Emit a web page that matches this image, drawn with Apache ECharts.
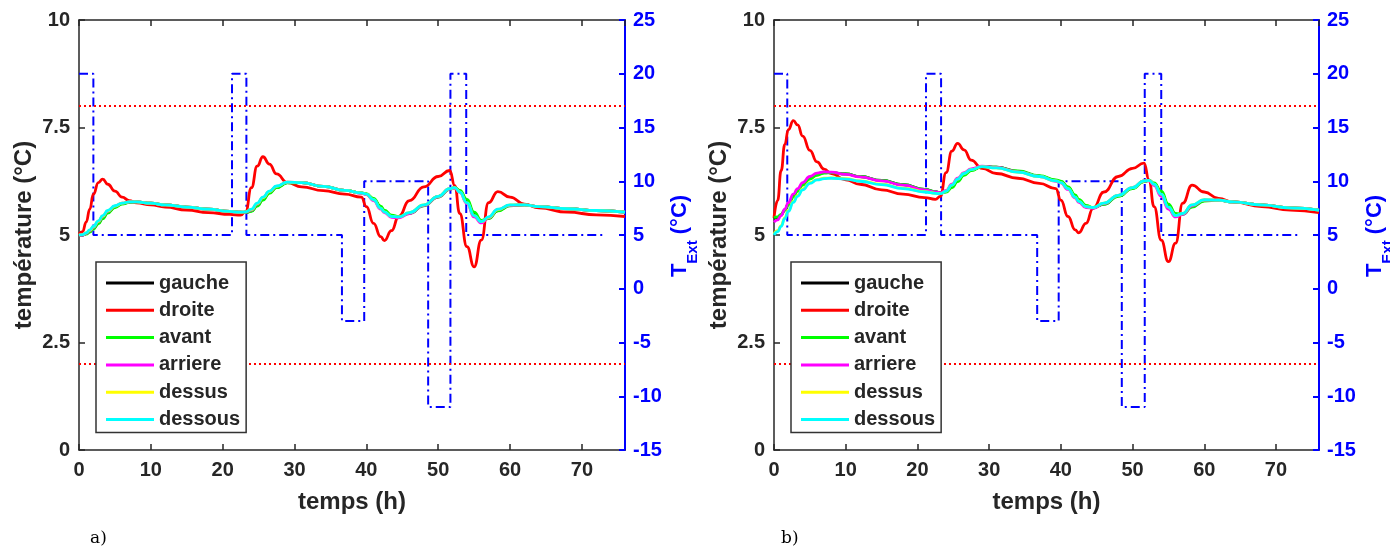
<!DOCTYPE html>
<html>
<head>
<meta charset="utf-8">
<script src="https://cdn.jsdelivr.net/npm/echarts@6/dist/echarts.min.js"></script>
<style>html,body{margin:0;padding:0;background:#fff}#c{width:1390px;height:549px}</style>
</head>
<body>
<div id="c"></div>
<script>
// ---------- DATA ----------
const seriesNames = ['gauche', 'droite', 'avant', 'arriere', 'dessus', 'dessous'];
const timeGrid = [0,0.5,1,1.5,2,2.7,3.3,4,5,6,7,8,10,12,15,18,21,22.5,23.2,24,24.8,25.6,26.5,27.5,29,31,34,37,39.3,40,41,42,42.5,43.5,44.5,46,48,50,51.6,52.3,53,54,55,56,57,58.3,60,62,64,68,72,76];

// panel a)
const gaucheA  = [5.0,5.0,5.03,5.08,5.16,5.28,5.40,5.53,5.65,5.73, 5.76,5.77,5.74,5.70,5.65,5.60,5.55,5.53,5.52,5.56, 5.69,5.83,5.99,6.11,6.22,6.22,6.13,6.04,5.98,5.95, 5.83,5.64,5.56,5.44,5.42,5.51,5.69,5.89,6.07,6.10, 6.02,5.79,5.49,5.32,5.39,5.57,5.69,5.70,5.66,5.61, 5.57,5.53];
const droiteA  = [5.02,5.08,5.3,5.6,5.95,6.22,6.30,6.18,6.02,5.88, 5.80,5.75,5.70,5.65,5.58,5.52,5.48,5.46,5.55,6.10, 6.60,6.82,6.65,6.42,6.22,6.12,6.03,5.95,5.88,5.66, 5.27,4.96,4.87,5.10,5.43,5.80,6.12,6.36,6.50,6.15, 5.50,4.73,4.26,4.88,5.75,6.01,5.88,5.72,5.63,5.53, 5.47,5.43];
const avantA   = [5.0,5.0,5.02,5.07,5.14,5.26,5.38,5.51,5.64,5.72, 5.76,5.77,5.74,5.70,5.65,5.60,5.55,5.53,5.52,5.55, 5.67,5.81,5.97,6.10,6.21,6.22,6.13,6.04,5.98,5.96, 5.85,5.67,5.58,5.46,5.43,5.50,5.68,5.88,6.06,6.10, 6.04,5.83,5.53,5.34,5.38,5.56,5.68,5.70,5.66,5.61, 5.57,5.53];
const arriereA = [5.0,5.0,5.04,5.10,5.18,5.31,5.43,5.55,5.67,5.74, 5.77,5.77,5.74,5.70,5.65,5.60,5.55,5.53,5.53,5.58, 5.72,5.87,6.01,6.13,6.23,6.22,6.13,6.04,5.97,5.94, 5.80,5.60,5.52,5.41,5.40,5.50,5.69,5.89,6.07,6.09, 5.99,5.73,5.42,5.28,5.40,5.59,5.69,5.70,5.66,5.61, 5.57,5.53];
const dessusA  = [5.0,5.01,5.05,5.11,5.19,5.32,5.44,5.56,5.67,5.74, 5.77,5.77,5.74,5.70,5.65,5.60,5.55,5.53,5.54,5.59, 5.73,5.87,6.01,6.13,6.23,6.22,6.13,6.04,5.98,5.95, 5.82,5.62,5.54,5.43,5.42,5.52,5.70,5.90,6.08,6.10, 6.00,5.75,5.45,5.31,5.41,5.59,5.70,5.70,5.66,5.61, 5.57,5.53];
const dessousA = [5.0,5.01,5.05,5.12,5.2,5.33,5.45,5.57,5.68,5.74, 5.77,5.77,5.74,5.70,5.65,5.60,5.55,5.53,5.54,5.60, 5.74,5.88,6.02,6.14,6.23,6.22,6.13,6.04,5.98,5.95, 5.82,5.62,5.54,5.43,5.42,5.52,5.70,5.90,6.08,6.10, 6.00,5.75,5.45,5.31,5.42,5.60,5.70,5.70,5.66,5.61, 5.57,5.53];
const tExtTimesA  = [0, 2, 21.3, 23.3, 36.6, 39.7, 48.6, 51.7, 53.9, 73];
const tExtValuesA = [20, 5, 20, 5, -3, 10, -11, 20, 5, 5];

// panel b)
const gaucheB  = [5.38,5.41,5.47,5.58,5.71,5.90,6.04,6.18,6.32,6.41, 6.45,6.45,6.42,6.36,6.27,6.17,6.06,6.01,5.98,6.01, 6.12,6.26,6.41,6.51,6.59,6.58,6.48,6.37,6.27,6.24, 6.10,5.90,5.80,5.67,5.63,5.72,5.91,6.09,6.25,6.27, 6.19,5.98,5.68,5.47,5.49,5.67,5.80,5.81,5.77,5.70, 5.63,5.58];
const droiteB  = [5.40,5.80,6.50,7.10,7.45,7.66,7.56,7.30,6.97,6.70, 6.53,6.43,6.28,6.18,6.05,5.95,5.87,5.83,5.90,6.45, 6.95,7.13,6.98,6.74,6.55,6.43,6.32,6.20,6.08,5.81, 5.43,5.12,5.05,5.27,5.62,6.00,6.36,6.55,6.67,6.28, 5.66,4.88,4.38,4.81,5.74,6.16,6.00,5.85,5.77,5.66, 5.58,5.52];
const avantB   = [5.40,5.42,5.48,5.58,5.70,5.88,6.02,6.16,6.30,6.39, 6.44,6.45,6.42,6.36,6.27,6.17,6.06,6.01,5.98,6.00, 6.10,6.24,6.39,6.50,6.59,6.58,6.49,6.38,6.28,6.25, 6.12,5.93,5.83,5.69,5.64,5.71,5.90,6.08,6.24,6.27, 6.21,6.02,5.72,5.50,5.48,5.65,5.79,5.81,5.77,5.70, 5.63,5.58];
const arriereB = [5.30,5.35,5.45,5.60,5.75,5.95,6.08,6.22,6.36,6.44, 6.47,6.46,6.41,6.35,6.26,6.16,6.05,6.00,5.98,6.04, 6.18,6.32,6.45,6.54,6.60,6.57,6.47,6.36,6.25,6.21, 6.06,5.86,5.76,5.64,5.62,5.73,5.92,6.10,6.26,6.26, 6.15,5.90,5.60,5.42,5.48,5.68,5.81,5.81,5.77,5.70, 5.63,5.58];
const dessusB  = [5.02,5.10,5.22,5.40,5.57,5.78,5.92,6.07,6.22,6.29, 6.32,6.33,6.31,6.26,6.18,6.09,6.01,5.97,5.96,6.02, 6.16,6.30,6.43,6.52,6.59,6.56,6.46,6.36,6.26,6.22, 6.08,5.88,5.78,5.66,5.64,5.74,5.92,6.10,6.26,6.27, 6.18,5.95,5.65,5.45,5.50,5.70,5.82,5.81,5.77,5.70, 5.63,5.58];
const dessousB = [5.00,5.08,5.20,5.38,5.55,5.76,5.90,6.05,6.20,6.28, 6.31,6.32,6.30,6.25,6.17,6.08,6.00,5.97,5.96,6.02, 6.16,6.30,6.43,6.52,6.59,6.56,6.46,6.36,6.26,6.22, 6.08,5.88,5.78,5.66,5.64,5.74,5.92,6.10,6.26,6.27, 6.18,5.95,5.65,5.45,5.50,5.70,5.82,5.81,5.77,5.70, 5.63,5.58];
const tExtTimesB  = [0, 1.85, 21.2, 23.3, 36.7, 39.7, 48.5, 51.7, 54.0, 73];
const tExtValuesB = [20, 5, 20, 5, -3, 10, -11, 20, 5, 5];

const limitLines = [8, 2];
const panelLabels = ['a)', 'b)'];
const xTitle = 'temps (h)';
const yTitle = 'température (°C)';

// ---------- STYLE ----------
const FONT = '"Liberation Sans", Arial, Helvetica, sans-serif';
const GRAY = '#262626';
const BLUE = '#0000ff';
const seriesColors = ['#000000', '#ff0000', '#00ff00', '#ff00ff', '#ffff00', '#00ffff'];

const panels = [
  { grid: {left: 79, top: 20, width: 546, height: 430}, temps: [gaucheA, droiteA, avantA, arriereA, dessusA, dessousA],
    extT: tExtTimesA, extV: tExtValuesA, legendLeft: 96, extLabelX: 669, labelX: 90 },
  { grid: {left: 774, top: 20, width: 545, height: 430}, temps: [gaucheB, droiteB, avantB, arriereB, dessusB, dessousB],
    extT: tExtTimesB, extV: tExtValuesB, legendLeft: 791, extLabelX: 1364, labelX: 781 }
];

const tickLabel = {color: GRAY, fontSize: 20, fontWeight: 'bold', fontFamily: FONT};
const titleStyle = {color: GRAY, fontSize: 24, fontWeight: 'bold', fontFamily: FONT};

const grids = [], xAxes = [], yAxes = [], series = [], legends = [], graphics = [];

panels.forEach((p, gi) => {
  grids.push(Object.assign({containLabel: false}, p.grid));
  xAxes.push({
    gridIndex: gi, type: 'value', min: 0, max: 76, interval: 10, position: 'bottom',
    name: xTitle, nameLocation: 'middle', nameGap: 40, nameTextStyle: titleStyle,
    axisLine: {onZero: false, lineStyle: {color: GRAY, width: 1.5}},
    axisTick: {inside: true, length: 6, lineStyle: {color: GRAY, width: 1.5}},
    axisLabel: Object.assign({margin: 10, showMaxLabel: false}, tickLabel),
    splitLine: {show: false}
  });
  xAxes.push({
    gridIndex: gi, type: 'value', min: 0, max: 76, interval: 10, position: 'top',
    axisLine: {onZero: false, lineStyle: {color: GRAY, width: 1.5}},
    axisTick: {inside: true, length: 6, lineStyle: {color: GRAY, width: 1.5}},
    axisLabel: {show: false}, splitLine: {show: false}
  });
  yAxes.push({
    gridIndex: gi, type: 'value', min: 0, max: 10, interval: 2.5, position: 'left',
    name: yTitle, nameLocation: 'middle', nameGap: 43, nameTextStyle: titleStyle,
    axisLine: {show: true, onZero: false, lineStyle: {color: GRAY, width: 1.5}},
    axisTick: {show: true, inside: true, length: 6, lineStyle: {color: GRAY, width: 1.5}},
    axisLabel: Object.assign({margin: 9}, tickLabel),
    splitLine: {show: false}
  });
  yAxes.push({
    gridIndex: gi, type: 'value', min: -15, max: 25, interval: 5, position: 'right',
    axisLine: {show: true, onZero: false, lineStyle: {color: BLUE, width: 2}},
    axisTick: {show: true, inside: true, length: 6, lineStyle: {color: BLUE, width: 2}},
    axisLabel: Object.assign({}, tickLabel, {color: BLUE, margin: 8}),
    splitLine: {show: false}
  });

  // T_Ext step line (right axis)
  series.push({
    type: 'line', name: 'T_Ext', xAxisIndex: gi * 2, yAxisIndex: gi * 2 + 1,
    step: 'end', symbol: 'none', silent: true, z: 1,
    lineStyle: {color: BLUE, width: 2, type: [9, 4, 2, 4]},
    data: p.extT.map((t, i) => [t, p.extV[i]])
  });

  seriesNames.forEach((nm, si) => {
    const s = {
      type: 'line', name: nm, xAxisIndex: gi * 2, yAxisIndex: gi * 2,
      symbol: 'none', smooth: 0.5, smoothMonotone: 'x', silent: true, z: 2,
      color: seriesColors[si],
      lineStyle: {color: seriesColors[si], width: 2.8},
      itemStyle: {color: seriesColors[si]},
      data: timeGrid.map((t, i) => [t, p.temps[si][i]])
    };
    if (si === 0) {
      s.markLine = {
        silent: true, symbol: ['none', 'none'], label: {show: false},
        lineStyle: {color: '#ff0000', type: [2, 3], width: 2},
        emphasis: {disabled: true},
        data: limitLines.map(v => ({yAxis: v}))
      };
    }
    series.push(s);
  });

  legends.push({
    orient: 'vertical', left: p.legendLeft, top: 262, data: seriesNames, selectedMode: false,
    z: 50, zlevel: 0,
    icon: 'rect', itemWidth: 48, itemHeight: 3, itemGap: 7.3,
    padding: [11, 6, 3, 10], borderColor: '#333333', borderWidth: 1.5, backgroundColor: '#ffffff',
    textStyle: {color: GRAY, fontSize: 20, fontWeight: 'bold', fontFamily: FONT, lineHeight: 20}
  });

  graphics.push({
    type: 'text', x: p.extLabelX, y: 236, rotation: Math.PI / 2, silent: true,
    style: {
      text: '{a|T}{b|Ext}{a| (°C)}',
      align: 'center', verticalAlign: 'top', textAlign: 'center', textVerticalAlign: 'top',
      rich: {
        a: {fill: BLUE, fontSize: 22, fontWeight: 'bold', fontFamily: FONT, lineHeight: 22, verticalAlign: 'top'},
        b: {fill: BLUE, fontSize: 15, fontWeight: 'bold', fontFamily: FONT, lineHeight: 31, verticalAlign: 'bottom'}
      }
    }
  });
  graphics.push({
    type: 'text', left: p.labelX, top: 530, silent: true,
    style: {text: panelLabels[gi], fill: '#000', font: '17px "DejaVu Serif", serif'}
  });
});

const chart = echarts.init(document.getElementById('c'));
chart.setOption({
  animation: false,
  backgroundColor: '#ffffff',
  grid: grids, xAxis: xAxes, yAxis: yAxes, series: series, legend: legends, graphic: graphics
});
</script>
</body>
</html>
